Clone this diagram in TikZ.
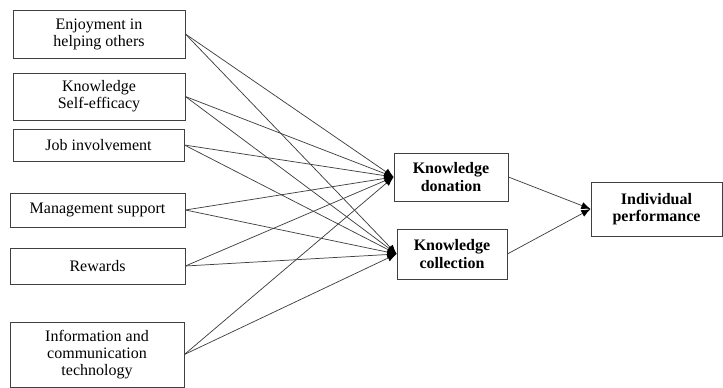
\documentclass[tikz,border=0pt]{standalone}
\usepackage{fontspec}
\setmainfont{Liberation Serif}
\usetikzlibrary{arrows.meta}
\begin{document}
\begin{tikzpicture}[x=0.75pt,y=-0.75pt,
  box/.style={draw=black!75,line width=0.6pt,rectangle,align=center,inner sep=0pt,
    font=\fontsize{12}{12.8}\selectfont},
  bbox/.style={box,font=\fontsize{12}{12.8}\selectfont\bfseries},
  link/.style={draw=black!75,line width=0.55pt,-{Latex[length=7pt,width=5.5pt,black]}}]
\useasboundingbox (0,0) rectangle (723,388);
\node[box,minimum width=129pt,minimum height=36pt] (e1) at (99,34) {Enjoyment in\\helping others};
\node[box,minimum width=129pt,minimum height=35.25pt] (e2) at (99,96.5) {Knowledge\\Self-efficacy};
\node[box,minimum width=128.25pt,minimum height=24pt] (e3) at (98.5,145) {Job involvement};
\node[box,minimum width=131.25pt,minimum height=25.5pt] (e4) at (97.5,210) {Management support};
\node[box,minimum width=131.25pt,minimum height=27pt] (e5) at (97.5,266) {Rewards};
\node[box,minimum width=130.5pt,minimum height=48.75pt] (e6) at (97,354.5) {Information and\\communication\\technology};
\node[bbox,minimum width=85.5pt,minimum height=36pt] (kd) at (451,177) {Knowledge\\donation};
\node[bbox,minimum width=82.5pt,minimum height=37.5pt] (kc) at (452,254) {Knowledge\\collection};
\node[bbox,minimum width=98.25pt,minimum height=40.5pt] (ip) at (656.5,209) {Individual\\performance};
\foreach \s in {e1,e2,e3,e4,e5,e6}{
  \draw[link] (\s.east) -- (kd.west);
  \draw[link] (\s.east) -- (kc.west);
}
\draw[link] (kd.east) -- (ip.west);
\draw[link] (kc.east) -- (ip.west);
\end{tikzpicture}
\end{document}
